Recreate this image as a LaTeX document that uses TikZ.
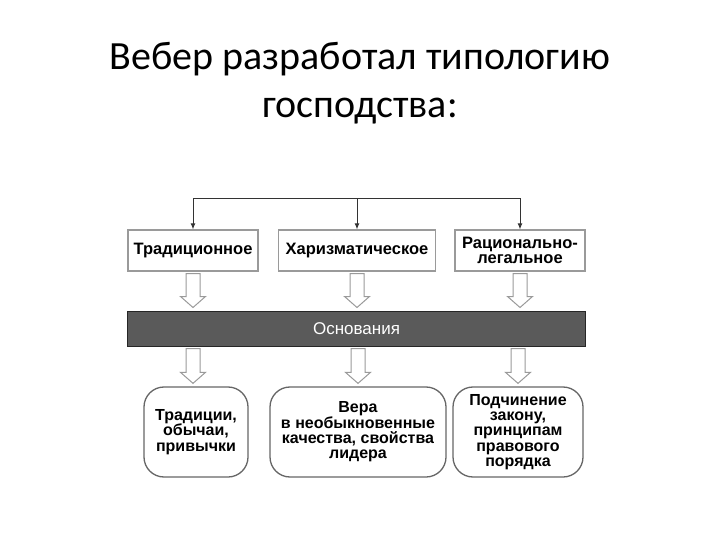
\documentclass[tikz,border=0pt]{standalone}
\usepackage{fontspec}
\setmainfont{Liberation Sans}
\newfontfamily\titlefont{Carlito}
\usetikzlibrary{arrows.meta,calc}
\definecolor{boxgray}{HTML}{9A9A9A}
\definecolor{bargray}{HTML}{5A5A5A}
\definecolor{roundgray}{HTML}{666666}
\tikzset{
  typebox/.style={rectangle, draw=boxgray, line width=1.2bp, minimum height=41bp, inner sep=2pt,
    font=\fontsize{16.5bp}{15bp}\selectfont\bfseries, align=center},
  basebox/.style={rectangle, rounded corners=20bp, draw=roundgray, line width=1.3bp, minimum height=90bp, inner sep=2pt,
    font=\fontsize{16bp}{15.4bp}\selectfont\bfseries, align=center},
  arrowline/.style={draw=boxgray, fill=white, line width=1bp}
}
% hollow block arrow from #1 down to #2
\newcommand{\hollowarrow}[2]{%
  \draw[arrowline] let \p1=(#1), \p2=(#2) in
    (\x1-7bp,\y1-2bp) -- (\x1-7bp,\y2+14bp) -- (\x1-12.5bp,\y2+14bp) -- (\x1,\y2+3bp)
    -- (\x1+12.5bp,\y2+14bp) -- (\x1+7bp,\y2+14bp) -- (\x1+7bp,\y1-2bp) -- cycle;}
\begin{document}
\begin{tikzpicture}[x=1bp, y=-1bp]
\useasboundingbox (0,0) rectangle (720,540);
%%%%%%%%%%%%%%%%%%%%%%%%%%%%%%% Title
\node[anchor=base, font=\titlefont\fontsize{40bp}{48bp}\selectfont](title1) at (360,70){Вебер разработал типологию};
\node[anchor=base, font=\titlefont\fontsize{40bp}{48bp}\selectfont](title2) at (360,118){господства:};
%%%%%%%%%%%%%%%%%%%%%%%%%%%%%%% Types of domination
\node[typebox, minimum width=130bp](trad) at (193,250.5){Традиционное};
\node[typebox, minimum width=157bp](charis) at (357,250.5){Харизматическое};
\node[typebox, minimum width=130bp](ratio) at (520,250.5){Рационально-\\легальное};
\coordinate (top) at (357,199);
\draw[-{Latex[length=6bp,width=5bp]}, line width=1bp, draw=black!80] (top) -| (trad.north);
\draw[-{Latex[length=6bp,width=5bp]}, line width=1bp, draw=black!80] (top) -| (ratio.north);
\draw[-{Latex[length=6bp,width=5bp]}, line width=1bp, draw=black!80] (top) -- (charis.north);
%%%%%%%%%%%%%%%%%%%%%%%%%%%%%%% Bar
\node[rectangle, draw=black!85, fill=bargray, line width=1bp, minimum width=457bp, minimum height=35bp,
  text=white, font=\fontsize{17bp}{17bp}\selectfont](bar) at (356.5,328.5){Основания};
%%%%%%%%%%%%%%%%%%%%%%%%%%%%%%% Bases
\node[basebox, minimum width=104bp](tradb) at (196,432){Традиции,\\обычаи,\\привычки};
\node[basebox, minimum width=176bp](charisb) at (358,432){Вера\\в необыкновенные\\качества, свойства\\лидера};
\node[basebox, minimum width=130bp](ratiob) at (518,432){Подчинение\\закону,\\принципам\\правового\\порядка};
%%%%%%%%%%%%%%%%%%%%%%%%%%%%%%% Hollow arrows
\hollowarrow{trad.south}{trad.south |- bar.north}
\hollowarrow{charis.south}{charis.south |- bar.north}
\hollowarrow{ratio.south}{ratio.south |- bar.north}
\hollowarrow{bar.south -| trad.south}{trad.south |- tradb.north}
\hollowarrow{bar.south -| charisb.north}{charisb.north}
\hollowarrow{bar.south -| ratiob.north}{ratiob.north}
\end{tikzpicture}
\end{document}
